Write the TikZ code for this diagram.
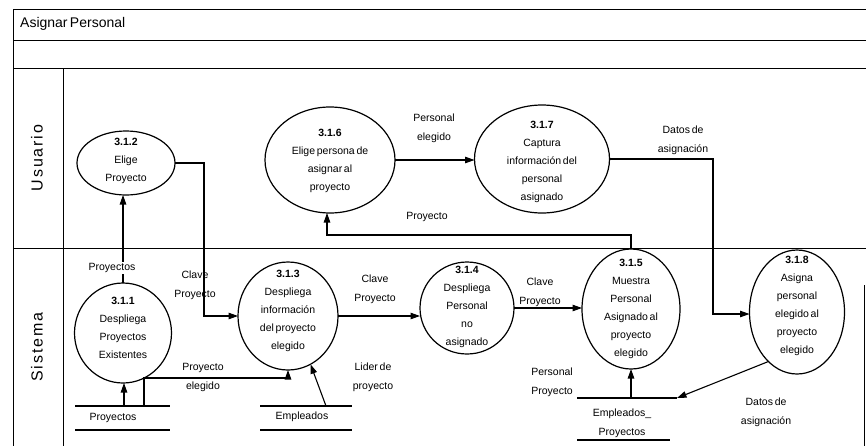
\documentclass[tikz,border=0pt]{standalone}
\usepackage{fontspec}
\setmainfont{Liberation Sans}
\newfontfamily\dfd{Liberation Sans}[WordSpace=0.6]
\newfontfamily\lanefont{Liberation Sans}[LetterSpace=12]
\usetikzlibrary{shapes.geometric, arrows.meta}

\begin{document}
\begin{tikzpicture}[x=1pt, y=-1pt,
  frame/.style={line width=1pt},
  proc/.style={ellipse, draw, line width=1.2pt, inner sep=0pt, outer sep=0pt},
  ptxt/.style={font=\dfd\fontsize{10.5}{18}\selectfont, align=center, inner sep=0pt},
  lbl/.style={font=\dfd\fontsize{10.5}{19}\selectfont, align=center, inner sep=0pt},
  flow/.style={line width=1.1pt, -{Triangle[length=9.5pt,width=6.5pt]}},
  link/.style={line width=1.1pt},
  lane/.style={font=\lanefont\fontsize{16}{16}\selectfont, rotate=90, inner sep=0pt},
]
\useasboundingbox (0,0) rectangle (866,445);

% swimlane frame
\draw[frame] (13,447) -- (13,9) -- (866,9);
\draw[frame] (864.5,285) -- (864.5,447);
\draw[frame] (13,40) -- (866,40);
\draw[frame] (13,68) -- (866,68);
\draw[frame] (63,68) -- (63,447);
\draw[frame] (13,248) -- (866,248);

\node[anchor=west, inner sep=0pt, font=\dfd\fontsize{14}{14}\selectfont] (title) at (20,24) {Asignar Personal};
\node[lane] (usuario) at (37,158) {Usuario};
\node[lane] (sistema) at (37,347) {Sistema};

% processes
\node[proc, minimum width=97pt,  minimum height=100pt] (p311) at (123,333) {};
\node[proc, minimum width=98pt,  minimum height=64pt]  (p312) at (126,163) {};
\node[proc, minimum width=100pt, minimum height=108pt] (p313) at (288,316) {};
\node[proc, minimum width=94pt,  minimum height=92pt]  (p314) at (467,308) {};
\node[proc, minimum width=98pt,  minimum height=120pt] (p315) at (631,309) {};
\node[proc, minimum width=130pt, minimum height=106pt] (p316) at (330,160) {};
\node[proc, minimum width=135pt, minimum height=108pt] (p317) at (542,159) {};
\node[proc, minimum width=95pt,  minimum height=124pt] (p318) at (797,312) {};

\node[ptxt] (t311) at (123,328) {\textbf{3.1.1}\\Despliega\\Proyectos\\Existentes};
\node[ptxt] (t312) at (126,161) {\textbf{3.1.2}\\Elige\\Proyecto};
\node[ptxt] (t313) at (288,311) {\textbf{3.1.3}\\Despliega\\información\\del proyecto\\elegido};
\node[ptxt] (t314) at (467,307) {\textbf{3.1.4}\\Despliega\\Personal\\no\\asignado};
\node[ptxt] (t315) at (631,309) {\textbf{3.1.5}\\Muestra\\Personal\\Asignado al\\proyecto\\elegido};
\node[ptxt] (t316) at (330,161) {\textbf{3.1.6}\\Elige persona de\\asignar al\\proyecto};
\node[ptxt] (t317) at (542,162) {\textbf{3.1.7}\\Captura\\información del\\personal\\asignado};
\node[ptxt] (t318) at (797,306) {\textbf{3.1.8}\\Asigna\\personal\\elegido al\\proyecto\\elegido};

% data stores
\draw[link] (75,406) -- (170,406);
\draw[link] (75,430) -- (170,430);
\node[lbl] (sproy) at (113,418) {Proyectos};
\draw[link] (260,406) -- (352,406);
\draw[link] (260,430) -- (352,430);
\node[lbl] (semp) at (302,417) {Empleados};
\draw[link] (577,398) -- (677,398);
\draw[link] (577,440) -- (670,440);
\node[lbl] (sempproy) at (622,423) {Empleados\_\\Proyectos};

\coordinate (proyA) at (124,406);
\coordinate (proyB) at (144,406);
\coordinate (empA) at (326,406);
\coordinate (epA) at (631,398);
\coordinate (epB) at (677,398);

% bends
\coordinate (b1) at (204,316);
\coordinate (b2) at (713,314);
\coordinate (b3) at (327,235);
\coordinate (b4) at (144,378);

% flows
\draw[flow] (p311.north) -- (p311.north |- p312.south);
\draw[flow] (p312.east) -| (b1) -- (b1 -| p313.west);
\draw[flow] (p313.east) -- (p313.east -| p314.west);
\draw[flow] (p314.east) -- (p314.east -| p315.west);
\draw[flow] (p316.east) -- (p316.east -| p317.west);
\draw[flow] (p317.east) -| (b2) -- (b2 -| p318.west);
\draw[flow] (p315.north) |- (b3) -- (b3 |- p316.south);
\draw[flow] (proyA) -- (proyA |- p311.south);
\draw[flow] (proyB) -- (b4) -| (p313.south);
\draw[flow] (empA) -- (p313.-65);
\draw[flow] (epA) -- (p315.south);
\draw[flow] (p318.240) -- (epB);

% flow labels
\node[lbl, fill=white, inner sep=1pt] (lproyectos) at (112,268) {Proyectos};
\node[lbl] (lclave1) at (195,285) {Clave\\Proyecto};
\node[lbl] (lclave2) at (375,289) {Clave\\Proyecto};
\node[lbl] (lclave3) at (540,292) {Clave\\Proyecto};
\node[lbl] (lelegido) at (203,377) {Proyecto\\elegido};
\node[lbl] (llider) at (373,377) {Lider de\\proyecto};
\node[lbl, anchor=east, align=right] (lpersproy) at (573,382) {Personal\\Proyecto};
\node[lbl] (ldatos2) at (766,412) {Datos de\\asignación};
\node[lbl] (ldatos1) at (683,140) {Datos de\\asignación};
\node[lbl] (lpersel) at (434,128) {Personal\\elegido};
\node[lbl] (lproyecto) at (427,217) {Proyecto};
\end{tikzpicture}
\end{document}
